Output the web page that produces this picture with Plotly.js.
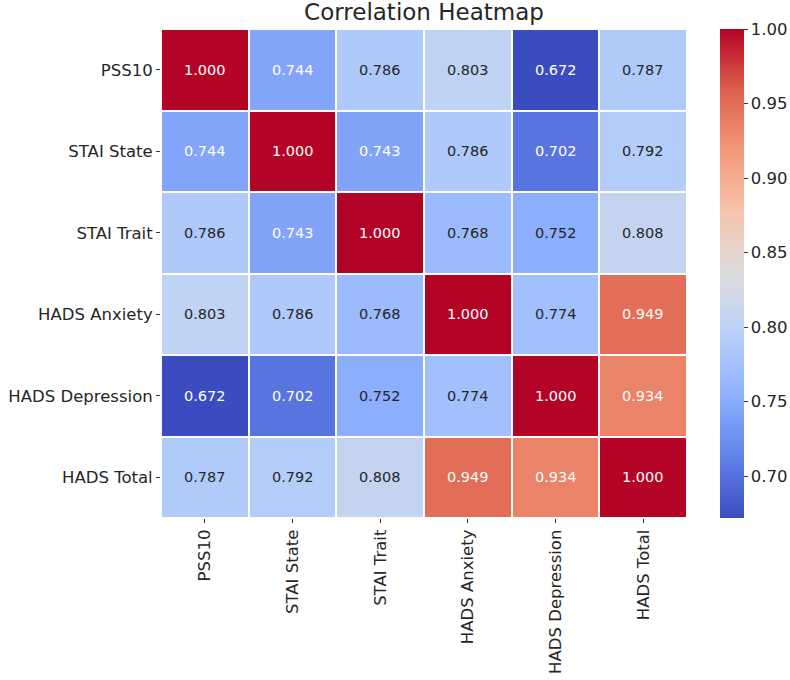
<!DOCTYPE html>
<html>
<head>
<meta charset="utf-8">
<script src="https://cdn.plot.ly/plotly-3.0.1.min.js"></script>
<style>html,body{margin:0;padding:0;background:#fff;}#chart{width:790px;height:680px;}</style>
</head>
<body>
<div id="chart"></div>
<script>
const labels = ["PSS10", "STAI State", "STAI Trait", "HADS Anxiety", "HADS Depression", "HADS Total"];
const row_pss10 = [1.000, 0.744, 0.786, 0.803, 0.672, 0.787];
const row_stai_state = [0.744, 1.000, 0.743, 0.786, 0.702, 0.792];
const row_stai_trait = [0.786, 0.743, 1.000, 0.768, 0.752, 0.808];
const row_hads_anx = [0.803, 0.786, 0.768, 1.000, 0.774, 0.949];
const row_hads_dep = [0.672, 0.702, 0.752, 0.774, 1.000, 0.934];
const row_hads_total = [0.787, 0.792, 0.808, 0.949, 0.934, 1.000];
const z = [row_pss10, row_stai_state, row_stai_trait, row_hads_anx, row_hads_dep, row_hads_total];
const colorbarTicks = [0.70, 0.75, 0.80, 0.85, 0.90, 0.95, 1.00];

const coolwarm = [
  [0.0, [59, 76, 192]],
  [0.125, [98, 130, 234]],
  [0.25, [141, 176, 254]],
  [0.375, [184, 208, 249]],
  [0.5, [221, 221, 221]],
  [0.625, [245, 196, 173]],
  [0.75, [244, 154, 123]],
  [0.875, [222, 96, 77]],
  [1.0, [180, 4, 38]]
];
const colorscale = coolwarm.map(s => [s[0], 'rgb(' + s[1].join(',') + ')']);

let zmin = Infinity, zmax = -Infinity;
z.forEach(r => r.forEach(v => { zmin = Math.min(zmin, v); zmax = Math.max(zmax, v); }));

function colorAt(v) {
  const t = (v - zmin) / (zmax - zmin);
  for (let i = 0; i < coolwarm.length - 1; i++) {
    const a = coolwarm[i], b = coolwarm[i + 1];
    if (t >= a[0] && t <= b[0]) {
      const f = (t - a[0]) / (b[0] - a[0]);
      return a[1].map((c, k) => c + f * (b[1][k] - c));
    }
  }
  return coolwarm[coolwarm.length - 1][1];
}
function lum(rgb) {
  const lin = rgb.map(c => { c = c / 255; return c <= 0.03928 ? c / 12.92 : Math.pow((c + 0.055) / 1.055, 2.4); });
  return 0.2126 * lin[0] + 0.7152 * lin[1] + 0.0722 * lin[2];
}

const annotations = [];
z.forEach((r, i) => r.forEach((v, j) => {
  annotations.push({
    x: labels[j], y: labels[i], xref: 'x', yref: 'y',
    text: v.toFixed(3), showarrow: false,
    font: {family: 'DejaVu Sans', size: 14.5, color: lum(colorAt(v)) > 0.408 ? '#262626' : '#ffffff'}
  });
}));

const trace = {
  type: 'heatmap', z: z, x: labels, y: labels,
  colorscale: colorscale, zmin: zmin, zmax: zmax,
  xgap: 2, ygap: 2, hoverinfo: 'skip',
  colorbar: {
    x: 1.0627, xanchor: 'left', xref: 'paper', xpad: 0, ypad: 0, y: 0.5, yanchor: 'middle',
    len: 1, lenmode: 'fraction', thickness: 24, outlinewidth: 0,
    tickvals: colorbarTicks, ticktext: colorbarTicks.map(v => v.toFixed(2)),
    ticks: 'outside', ticklen: 4, tickcolor: '#333', tickwidth: 1,
    tickfont: {family: 'DejaVu Sans', size: 16.5, color: '#262626'}
  }
};

const layout = {
  width: 790, height: 680,
  margin: {l: 161, r: 103, t: 29, b: 162, pad: 0, autoexpand: false},
  paper_bgcolor: '#ffffff', plot_bgcolor: '#ffffff',
  title: {text: 'Correlation Heatmap', x: 0.5, xref: 'paper', xanchor: 'center', y: 0.983, yanchor: 'middle', yref: 'container',
          font: {family: 'DejaVu Sans', size: 23, color: '#262626'}},
  xaxis: {type: 'category', tickangle: -90, ticks: 'outside', ticklen: 4, tickcolor: '#333', showgrid: false, zeroline: false,
          showline: false, automargin: false, tickfont: {family: 'DejaVu Sans', size: 16.5, color: '#262626'}},
  yaxis: {type: 'category', autorange: 'reversed', ticks: 'outside', ticklen: 4, tickcolor: '#333', showgrid: false, zeroline: false,
          showline: false, automargin: false, tickfont: {family: 'DejaVu Sans', size: 16.5, color: '#262626'}},
  annotations: annotations
};

Plotly.newPlot('chart', [trace], layout, {displayModeBar: false, staticPlot: true});
</script>
</body>
</html>
